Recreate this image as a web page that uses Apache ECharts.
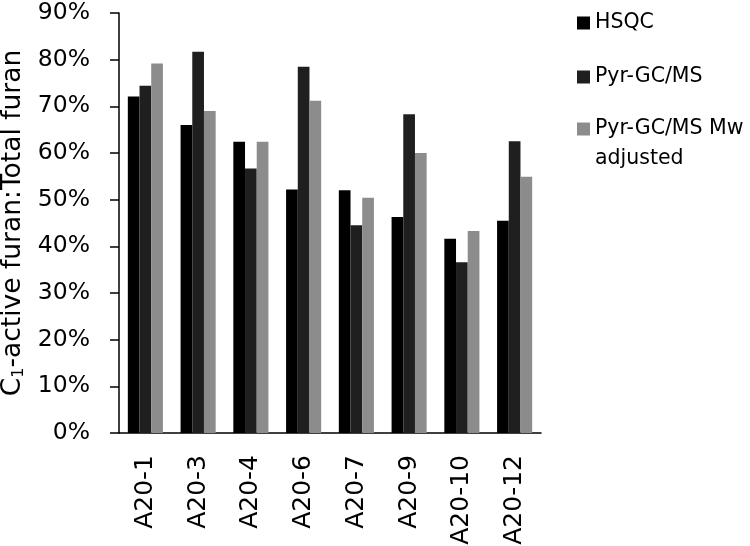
<!DOCTYPE html>
<html><head><meta charset="utf-8">
<script src="https://cdn.jsdelivr.net/npm/echarts@6/dist/echarts.min.js"></script>
<style>html,body{margin:0;padding:0;background:#fff}#c{width:750px;height:546px}</style>
</head><body><div id="c"></div>
<script>
const categories = ['A20-1','A20-3','A20-4','A20-6','A20-7','A20-9','A20-10','A20-12'];
const hsqc = [72.1, 66.0, 62.4, 52.2, 52.0, 46.3, 41.6, 45.5];
const pyr = [74.4, 81.7, 56.7, 78.5, 44.5, 68.3, 36.6, 62.5];
const pyrMw = [79.2, 69.0, 62.4, 71.2, 50.4, 60.0, 43.3, 54.9];
const seriesNames = ['HSQC', 'Pyr-GC/MS', 'Pyr-GC/MS Mw adjusted'];
const yTicks = [0, 10, 20, 30, 40, 50, 60, 70, 80, 90];

const FONT = 'DejaVu Sans';
const chart = echarts.init(document.getElementById('c'));
const mk = (name, data, color) => ({
  name, type: 'bar', data, barWidth: 11.7, barGap: '0%',
  itemStyle: { color }, animation: false
});
const legendText = { fontFamily: FONT, fontSize: 20.5, color: '#000', lineHeight: 30 };
chart.setOption({
  animation: false,
  textStyle: { fontFamily: FONT },
  grid: { left: 119, right: 209, top: 13, bottom: 113, containLabel: false, outerBoundsMode: 'none' },
  legend: [
    {
      orient: 'vertical', left: 577, top: 8, padding: 0, itemWidth: 13, itemHeight: 13,
      itemGap: 24, icon: 'rect', textStyle: legendText,
      data: [seriesNames[0], seriesNames[1]]
    },
    {
      orient: 'vertical', left: 577, top: 84, padding: 0, itemWidth: 13, itemHeight: 13,
      icon: 'rect', textStyle: legendText,
      formatter: () => '\nPyr-GC/MS Mw\nadjusted',
      data: [seriesNames[2]]
    }
  ],
  xAxis: {
    type: 'category', data: categories,
    axisLine: { lineStyle: { color: '#000', width: 1.5 } },
    axisTick: { show: false },
    axisLabel: { rotate: 90, margin: 22, fontSize: 25, color: '#000', fontFamily: FONT }
  },
  yAxis: {
    type: 'value', min: yTicks[0], max: yTicks[yTicks.length - 1], interval: 10,
    name: '{a|C}{s|1}{a|-active furan:Total furan}',
    nameLocation: 'middle', nameGap: 88, nameRotate: 90,
    nameTextStyle: {
      rich: {
        a: { fontSize: 26.5, color: '#000', fontFamily: FONT },
        s: { fontSize: 16, color: '#000', fontFamily: FONT, verticalAlign: 'bottom', padding: [10, 0, 0, 0] }
      }
    },
    axisLine: { show: true, lineStyle: { color: '#000', width: 1.5 } },
    axisTick: { show: true, length: 9, inside: false, lineStyle: { color: '#000', width: 1.5 } },
    splitLine: { show: false },
    axisLabel: { margin: 29, fontSize: 23.5, color: '#000', fontFamily: FONT, formatter: v => v + '%' }
  },
  series: [
    mk(seriesNames[0], hsqc, '#000000'),
    mk(seriesNames[1], pyr, '#1f1f1f'),
    mk(seriesNames[2], pyrMw, '#8c8c8c')
  ]
});
</script></body></html>
